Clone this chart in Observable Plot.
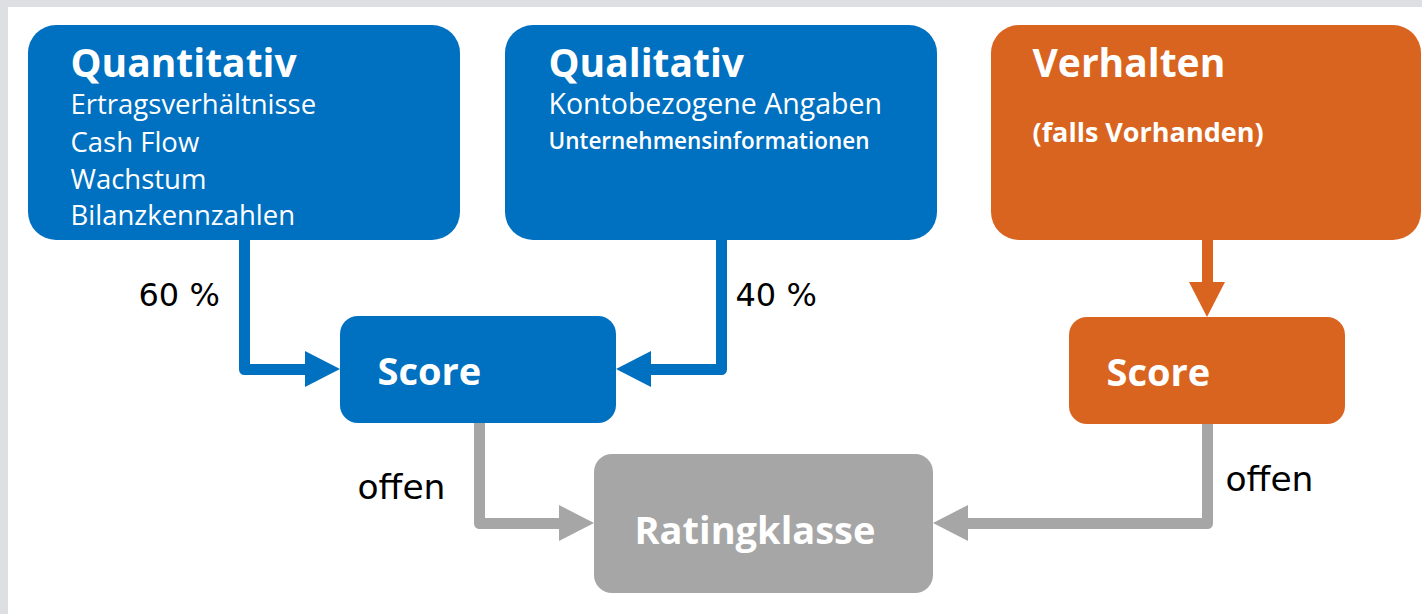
<!DOCTYPE html>
<html>
<head>
<meta charset="utf-8">
<script src="https://cdn.jsdelivr.net/npm/d3@7"></script>
<script src="https://cdn.jsdelivr.net/npm/@observablehq/plot@0.6"></script>
<style>
  html, body { margin: 0; padding: 0; background: #dedfe3; }
  #chart svg { display: block; }
</style>
</head>
<body>
<div id="chart"></div>
<script>
// ---- content (texts) ----
const nodeIds    = ["quant", "qual", "verh", "scoreA", "scoreB", "rating"];
const nodeTitles = ["Quantitativ", "Qualitativ", "Verhalten", "Score", "Score", "Ratingklasse"];
const quantItems = ["Ertragsverhältnisse", "Cash Flow", "Wachstum", "Bilanzkennzahlen"];
const qualItems  = ["Kontobezogene Angaben", "Unternehmensinformationen"];
const verhItems  = ["(falls Vorhanden)"];
const weightLabels = ["60 %", "40 %"];
const openLabels   = ["offen", "offen"];

// ---- layout (diagram geometry in pixel space) ----
const W = 1422, H = 614;
const BLUE = "#0070c0", ORANGE = "#d9641f", GRAY = "#a6a6a6";
const geom = {
  quant:  {x1: 28,   x2: 460,  y1: 25,  y2: 240, fill: BLUE},
  qual:   {x1: 505,  x2: 937,  y1: 25,  y2: 240, fill: BLUE},
  verh:   {x1: 991,  x2: 1421, y1: 25,  y2: 240, fill: ORANGE},
  scoreA: {x1: 340,  x2: 616,  y1: 316, y2: 423, fill: BLUE},
  scoreB: {x1: 1069, x2: 1345, y1: 317, y2: 424, fill: ORANGE},
  rating: {x1: 594,  x2: 933,  y1: 454, y2: 593, fill: GRAY}
};
const nodes = nodeIds.map((id, i) => ({id, title: nodeTitles[i], ...geom[id]}));
const bigNodes = nodes.filter(n => ["quant", "qual", "verh"].includes(n.id));
const smallNodes = nodes.filter(n => !["quant", "qual", "verh"].includes(n.id));

const connectors = [
  {id: "c1", color: BLUE,   pts: [[244, 240], [244, 369], [310, 369]]},
  {id: "c2", color: BLUE,   pts: [[721, 240], [721, 369], [650, 369]]},
  {id: "c3", color: ORANGE, pts: [[1207, 240], [1207, 288]]},
  {id: "c4", color: GRAY,   pts: [[479, 423], [479, 523], [565, 523]]},
  {id: "c5", color: GRAY,   pts: [[1207, 424], [1207, 523], [965, 523]]}
];
const linePts = connectors.flatMap(c => c.pts.map(([x, y]) => ({id: c.id, color: c.color, x, y})));

const heads = [
  {id: "a1", color: BLUE,   x: 340,  y: 369, dir: "right"},
  {id: "a2", color: BLUE,   x: 616,  y: 369, dir: "left"},
  {id: "a3", color: ORANGE, x: 1207, y: 317, dir: "down"},
  {id: "a4", color: GRAY,   x: 594,  y: 523, dir: "right"},
  {id: "a5", color: GRAY,   x: 933,  y: 523, dir: "left"}
];
const L = 35, HW = 18;
const hPts = heads.filter(h => h.dir !== "down").flatMap(h => {
  const base = h.dir === "right" ? h.x - L : h.x + L;
  return [
    {id: h.id, color: h.color, x: base, y1: h.y - HW, y2: h.y + HW},
    {id: h.id, color: h.color, x: h.x, y1: h.y, y2: h.y}
  ];
});
const vPts = heads.filter(h => h.dir === "down").flatMap(h => [
  {id: h.id, color: h.color, y: h.y - L, x1: h.x - HW, x2: h.x + HW},
  {id: h.id, color: h.color, y: h.y, x1: h.x, x2: h.x}
]);

// text placement
const titlePos = {
  quant: [70, 76, 39], qual: [548, 76, 39], verh: [1032, 76, 39],
  scoreA: [377, 384, 38], scoreB: [1106, 385, 38], rating: [634, 543, 38]
};
const titles = nodes.map(n => ({text: n.title, x: titlePos[n.id][0], y: titlePos[n.id][1], size: titlePos[n.id][2]}));

const subsRegular = [
  ...quantItems.map((t, i) => ({text: t, x: 70, y: [113, 151, 188, 224][i], size: 27.5})),
  {text: qualItems[0], x: 548, y: 113, size: 28.5}
];
const subsSemi = [{text: qualItems[1], x: 548, y: 148, size: 22.5}];
const subsBold = [{text: verhItems[0], x: 1032, y: 141, size: 27}];
const weightPos = [[138, 305], [735, 305]];
const openPos = [[357, 498], [1225, 490]];
const wLabels = weightLabels.map((t, i) => ({text: t, x: weightPos[i][0], y: weightPos[i][1]}));
const oLabels = openLabels.map((t, i) => ({text: t, x: openPos[i][0], y: openPos[i][1]}));

const chart = Plot.plot({
  width: W, height: H,
  margin: 0,
  style: {background: "#dedfe3", fontFamily: "'Open Sans', sans-serif"},
  x: {domain: [0, W], range: [0, W], axis: null},
  y: {domain: [0, H], range: [0, H], axis: null},
  marks: [
    Plot.rect([{x1: 8, x2: W, y1: 7, y2: H}], {x1: "x1", x2: "x2", y1: "y1", y2: "y2", fill: "white"}),
    Plot.line(linePts, {x: "x", y: "y", z: "id", stroke: d => d.color, strokeWidth: 11, strokeLinejoin: "round", strokeLinecap: "round"}),
    Plot.areaY(hPts, {x: "x", y1: "y1", y2: "y2", z: "id", fill: d => d.color, curve: "linear"}),
    Plot.areaX(vPts, {y: "y", x1: "x1", x2: "x2", z: "id", fill: d => d.color, curve: "linear"}),
    Plot.rect(bigNodes, {x1: "x1", x2: "x2", y1: "y1", y2: "y2", fill: d => d.fill, rx: 28}),
    Plot.rect(smallNodes, {x1: "x1", x2: "x2", y1: "y1", y2: "y2", fill: d => d.fill, rx: 18}),
    Plot.text(titles, {x: "x", y: "y", text: "text", fontSize: d => d.size, fontWeight: 700, fill: "white", textAnchor: "start", lineAnchor: "bottom"}),
    Plot.text(subsRegular, {x: "x", y: "y", text: "text", fontSize: d => d.size, fontWeight: 400, fill: "white", textAnchor: "start", lineAnchor: "bottom"}),
    Plot.text(subsSemi, {x: "x", y: "y", text: "text", fontSize: d => d.size, fontWeight: 600, fill: "white", textAnchor: "start", lineAnchor: "bottom"}),
    Plot.text(subsBold, {x: "x", y: "y", text: "text", fontSize: d => d.size, fontWeight: 700, fill: "white", textAnchor: "start", lineAnchor: "bottom"}),
    Plot.text(wLabels, {x: "x", y: "y", text: "text", fontSize: 32, fill: "black", textAnchor: "start", lineAnchor: "bottom", fontFamily: "DejaVu Sans"}),
    Plot.text(oLabels, {x: "x", y: "y", text: "text", fontSize: 34.5, fill: "black", textAnchor: "start", lineAnchor: "bottom", fontFamily: "DejaVu Sans"})
  ]
});
document.getElementById("chart").appendChild(chart);
</script>
</body>
</html>
